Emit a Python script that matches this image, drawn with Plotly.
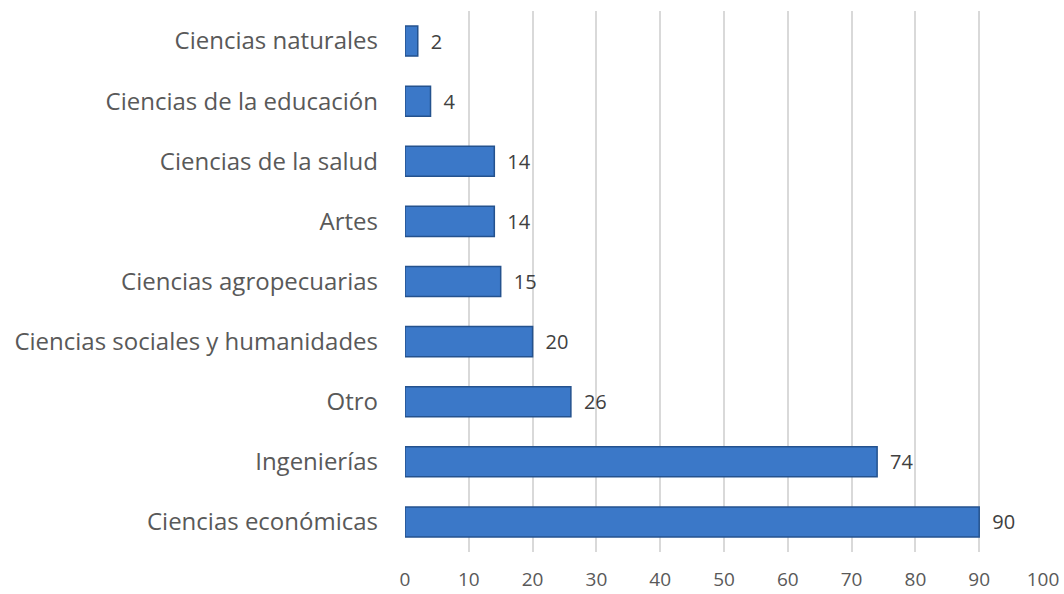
import plotly.graph_objects as go

categories = ["Ciencias económicas", "Ingenierías", "Otro", "Ciencias sociales y humanidades",
              "Ciencias agropecuarias", "Artes", "Ciencias de la salud",
              "Ciencias de la educación", "Ciencias naturales"]
values = [90, 74, 26, 20, 15, 14, 14, 4, 2]
x_ticks = [0, 10, 20, 30, 40, 50, 60, 70, 80, 90, 100]

fig = go.Figure()
fig.add_trace(go.Bar(
    y=categories, x=values, orientation="h",
    marker=dict(color="#3b78c8", line=dict(color="#24528e", width=1.5)),
    text=["\u2002" + str(v) for v in values], textposition="outside",
    textfont=dict(size=20, color="#404040", family="Open Sans"),
    cliponaxis=False, width=0.5,
))
fig.update_layout(
    width=1064, height=594,
    margin=dict(l=405, r=21, t=11, b=42),
    paper_bgcolor="white", plot_bgcolor="white",
    showlegend=False,
    font=dict(family="Open Sans", color="#595959"),
)
fig.update_xaxes(range=[0, 100], tickvals=x_ticks, showgrid=True, gridcolor="#d9d9d9",
                 gridwidth=1.5, zeroline=False, showline=False, automargin=False,
                 tickfont=dict(size=19, color="#595959"), ticks="", ticklabelstandoff=14)
fig.update_yaxes(showgrid=False, showline=False, ticks="", ticklabelstandoff=26, automargin=False,
                 tickfont=dict(size=24, color="#595959"))
fig.write_html("out.html", config={"displayModeBar": False},
               post_script="document.body.style.margin='0';document.body.style.overflow='hidden';")
